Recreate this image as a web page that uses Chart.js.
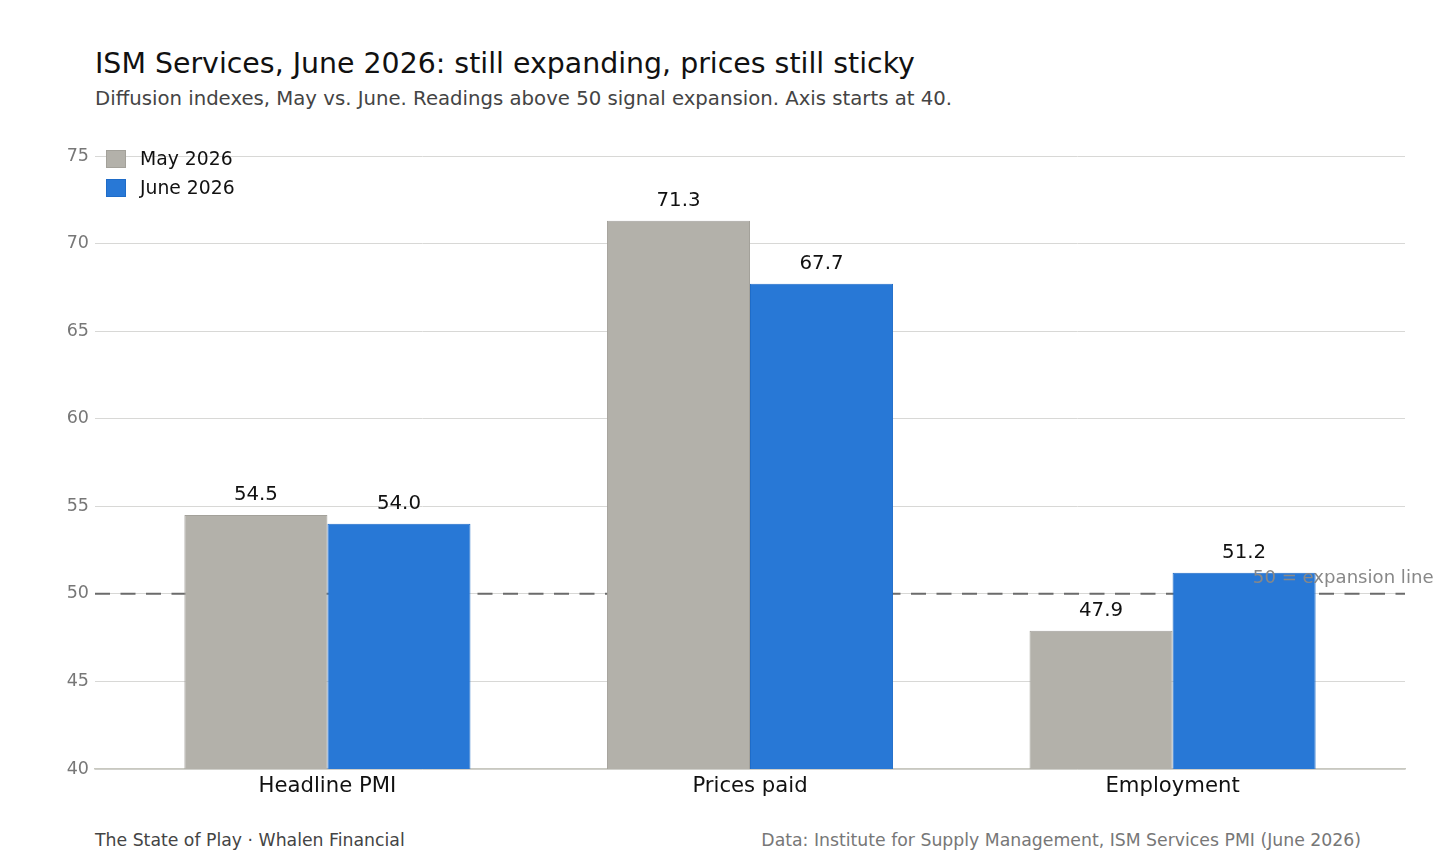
<!DOCTYPE html>
<html>
<head>
<meta charset="utf-8">
<script src="https://cdn.jsdelivr.net/npm/chart.js@4/dist/chart.umd.min.js"></script>
<style>
  html, body { margin: 0; padding: 0; background: #fff; width: 1456px; height: 865px; overflow: hidden; font-family: "DejaVu Sans", sans-serif; }
  #title { position: absolute; left: 95px; top: 47px; font-size: 28.4px; color: #111; white-space: nowrap; }
  #subtitle { position: absolute; left: 95px; top: 87px; font-size: 19.7px; color: #444; white-space: nowrap; }
  #wrap { position: absolute; left: 0; top: 130px; width: 1456px; height: 680px; }
  #legend { position: absolute; left: 106px; top: 144px; font-size: 18.8px; color: #111; }
  .li { display: flex; align-items: center; height: 29px; }
  .sw { width: 20px; height: 18px; margin-right: 14px; box-sizing: border-box; }
  #footL { position: absolute; left: 95px; top: 830px; font-size: 17.3px; color: #444; white-space: nowrap; }
  #footR { position: absolute; right: 95px; top: 830px; font-size: 17.3px; color: #777; white-space: nowrap; }
</style>
</head>
<body>
<div id="title">ISM Services, June 2026: still expanding, prices still sticky</div>
<div id="subtitle">Diffusion indexes, May vs. June. Readings above 50 signal expansion. Axis starts at 40.</div>
<div id="wrap"><canvas id="c"></canvas></div>
<div id="legend"></div>
<div id="footL">The State of Play · Whalen Financial</div>
<div id="footR">Data: Institute for Supply Management, ISM Services PMI (June 2026)</div>
<script>
const categories = ["Headline PMI", "Prices paid", "Employment"];
const seriesNames = ["May 2026", "June 2026"];
const mayValues = [54.5, 71.3, 47.9];
const juneValues = [54.0, 67.7, 51.2];
const yTicks = [40, 45, 50, 55, 60, 65, 70, 75];
const expansionLevel = 50;
const expansionLabel = "50 = expansion line";

const colors = ["#b3b1aa", "#2878d6"];
const borders = ["#a3a19a", "#1f6cc8"];

// legend
const lg = document.getElementById('legend');
seriesNames.forEach((n, i) => {
  const d = document.createElement('div'); d.className = 'li';
  d.innerHTML = '<div class="sw" style="background:' + colors[i] + ';border:1px solid ' + borders[i] + '"></div><span>' + n + '</span>';
  lg.appendChild(d);
});

const toPts = arr => arr.map((v, i) => ({x: i, y: v}));

const overlay = {
  id: 'overlay',
  beforeDatasetsDraw(chart) {
    const {ctx, chartArea, scales} = chart;
    const y = scales.y.getPixelForValue(expansionLevel);
    ctx.save();
    ctx.strokeStyle = '#6b6b6b';
    ctx.lineWidth = 2;
    ctx.setLineDash([15, 10.5]);
    ctx.beginPath();
    ctx.moveTo(chartArea.left, y);
    ctx.lineTo(chartArea.right, y);
    ctx.stroke();
    ctx.restore();
  },
  afterDatasetsDraw(chart) {
    const {ctx, scales} = chart;
    ctx.save();
    ctx.font = '19.8px "DejaVu Sans"';
    ctx.fillStyle = '#111';
    ctx.textAlign = 'center';
    ctx.textBaseline = 'bottom';
    chart.data.datasets.forEach((ds, di) => {
      const meta = chart.getDatasetMeta(di);
      meta.data.forEach((bar, i) => {
        ctx.fillText(ds.data[i].y.toFixed(1), bar.x, bar.y - 10);
      });
    });
    ctx.font = '18.1px "DejaVu Sans"';
    ctx.fillStyle = '#888';
    ctx.textAlign = 'left';
    ctx.textBaseline = 'alphabetic';
    ctx.fillText(expansionLabel, scales.x.getPixelForValue(2.19), scales.y.getPixelForValue(50.63));
    ctx.restore();
  }
};

new Chart(document.getElementById('c'), {
  type: 'bar',
  data: {
    datasets: [
      { label: seriesNames[0], data: toPts(mayValues), backgroundColor: colors[0], borderColor: borders[0], borderWidth: 1 },
      { label: seriesNames[1], data: toPts(juneValues), backgroundColor: colors[1], borderColor: borders[1], borderWidth: 1 }
    ]
  },
  options: {
    responsive: true,
    maintainAspectRatio: false,
    animation: false,
    layout: { padding: { left: 0, right: 51, top: 26, bottom: 0 } },
    datasets: { bar: { categoryPercentage: 0.677, barPercentage: 1.0, grouped: true } },
    plugins: { legend: { display: false }, tooltip: { enabled: false } },
    scales: {
      x: {
        type: 'linear',
        offset: false,
        min: -0.55, max: 2.55,
        afterBuildTicks: s => { s.ticks = categories.map((c, i) => ({value: i})); },
        afterFit: s => { s.height = 41; },
        ticks: { callback: v => categories[v], color: '#111', font: { family: 'DejaVu Sans', size: 21.2 }, padding: 5, maxRotation: 0, autoSkip: false },
        grid: { display: false, drawTicks: false },
        border: { display: true, color: '#c8c8c0', width: 1.5 }
      },
      y: {
        min: 40, max: 75,
        afterBuildTicks: s => { s.ticks = yTicks.map(v => ({value: v})); },
        afterFit: s => { s.width = 95; },
        ticks: { color: '#777', font: { family: 'DejaVu Sans', size: 17.5 }, padding: 6 },
        grid: { color: '#d8d8d6', lineWidth: 1, drawTicks: false },
        border: { display: false }
      }
    }
  },
  plugins: [overlay]
});
</script>
</body>
</html>
